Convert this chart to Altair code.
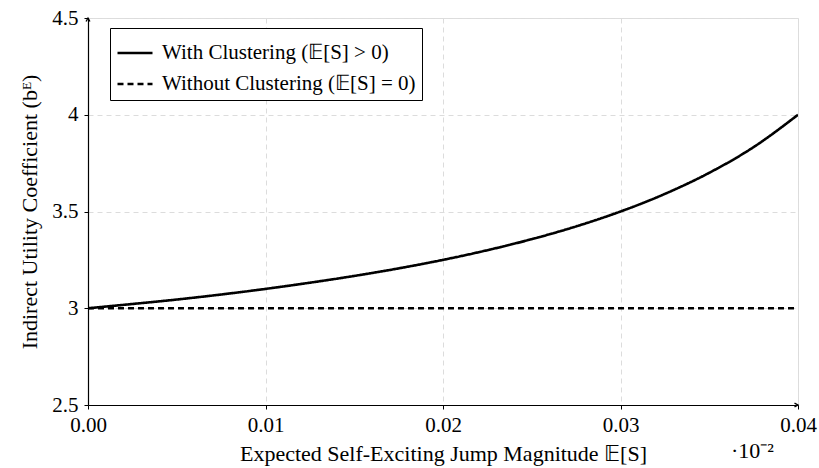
import altair as alt
import pandas as pd

x_vals = [0.0, 0.0025, 0.005, 0.0075, 0.01, 0.0125, 0.015, 0.0175, 0.02,
          0.0225, 0.025, 0.0275, 0.03, 0.0325, 0.035, 0.0375, 0.04]
with_clustering = [3.0, 3.022, 3.045, 3.071, 3.1, 3.132, 3.167, 3.206, 3.25,
                   3.3, 3.357, 3.423, 3.5, 3.591, 3.7, 3.833, 4.0]
without_clustering = [3.0] * len(x_vals)

s1 = "With Clustering (𝔼[S] > 0)"
s2 = "Without Clustering (𝔼[S] = 0)"
series_names = [s1, s2]

df = pd.DataFrame({
    "x": x_vals * 2,
    "y": with_clustering + without_clustering,
    "series": [s1] * len(x_vals) + [s2] * len(x_vals),
})

x_ticks = [0.0, 0.01, 0.02, 0.03, 0.04]
y_ticks = [2.5, 3.0, 3.5, 4.0, 4.5]

FONT = "Liberation Serif"

xscale = alt.Scale(domain=[0, 0.04], nice=False, zero=False)
yscale = alt.Scale(domain=[2.5, 4.5], nice=False, zero=False)

lines = alt.Chart(df).mark_line(strokeWidth=2.6, color="black", clip=True,
                                interpolate="monotone").encode(
    x=alt.X("x:Q", scale=xscale,
            axis=alt.Axis(values=x_ticks, format=".2f",
                          title="Expected Self-Exciting Jump Magnitude 𝔼[S]",
                          titleFont=FONT, titleFontSize=22, titleFontWeight="normal",
                          titleColor="black", titlePadding=8,
                          labelFont=FONT, labelFontSize=21, labelColor="black",
                          labelPadding=5, labelFlush=False,
                          domainColor="black", domainWidth=1.2,
                          tickColor="black", tickSize=4,
                          grid=True, gridColor="#dcdcdc", gridDash=[5, 4], gridWidth=1)),
    y=alt.Y("y:Q", scale=yscale,
            axis=alt.Axis(values=y_ticks, format=".1~f",
                          title="Indirect Utility Coefficient (bᴱ)",
                          titleFont=FONT, titleFontSize=22, titleFontWeight="normal",
                          titleColor="black", titlePadding=10,
                          labelFont=FONT, labelFontSize=21, labelColor="black",
                          labelPadding=6, labelFlush=False,
                          domainColor="black", domainWidth=1.2,
                          tickColor="black", tickSize=4,
                          grid=True, gridColor="#dcdcdc", gridDash=[5, 4], gridWidth=1)),
    strokeDash=alt.StrokeDash(
        "series:N",
        scale=alt.Scale(domain=series_names, range=[[1, 0], [6, 4]]),
        sort=series_names,
        legend=alt.Legend(
            title=None, orient="none", legendX=22, legendY=10,
            strokeColor="black", fillColor="white", padding=6,
            labelFont=FONT, labelFontSize=21, labelColor="black", labelLimit=0,
            symbolType="stroke", symbolStrokeWidth=2.6, symbolSize=1225,
            symbolStrokeColor="black", rowPadding=2, labelOffset=8,
        ),
    ),
)

arrow_df = pd.DataFrame({"x": [0.0], "y": [4.5], "x2": [0.04], "y2": [2.5]})
arrow_up = alt.Chart(arrow_df).mark_point(
    shape="M-0.5,0.9 L0,0 L0.5,0.9", filled=False, stroke="black",
    strokeWidth=1.3, size=60, opacity=1,
).encode(x=alt.X("x:Q", scale=xscale), y=alt.Y("y:Q", scale=yscale))
arrow_right = alt.Chart(arrow_df).mark_point(
    shape="M-0.9,-0.5 L0,0 L-0.9,0.5", filled=False, stroke="black",
    strokeWidth=1.3, size=60, opacity=1,
).encode(x=alt.X("x2:Q", scale=xscale), y=alt.Y("y2:Q", scale=yscale))

exp_df = pd.DataFrame({"t": ["·10⁻²"]})
exp_label = alt.Chart(exp_df).mark_text(
    font=FONT, fontSize=22, color="black", align="left", baseline="middle"
).encode(x=alt.value(643), y=alt.value(433), text="t:N")

chart = alt.layer(lines, arrow_up, arrow_right, exp_label).properties(
    width=710, height=387,
    autosize=alt.AutoSizeParams(type="none"),
    padding={"left": 88, "top": 18, "right": 21, "bottom": 63},
).configure_view(stroke=None).configure(background="white")

chart.save("out.html", embed_options={"renderer": "svg", "actions": False})
